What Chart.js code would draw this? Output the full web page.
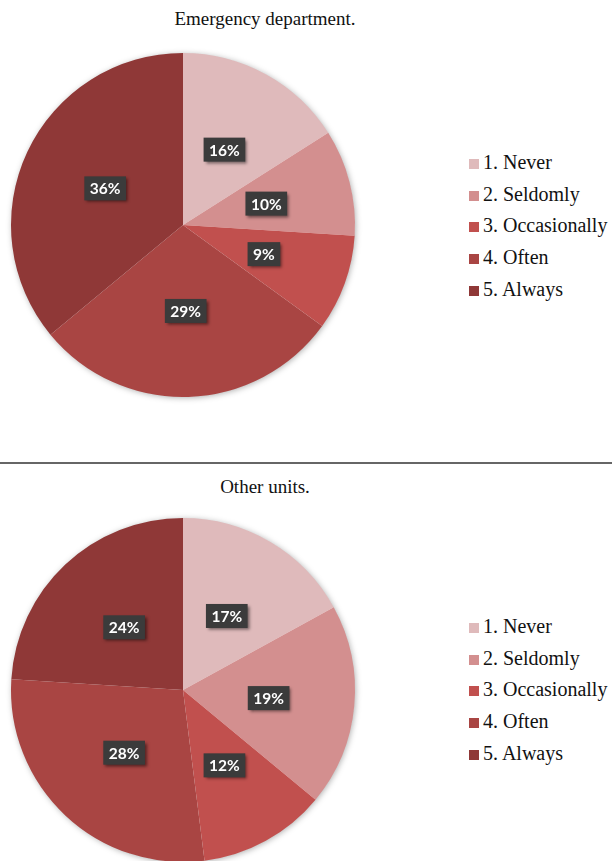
<!DOCTYPE html>
<html>
<head>
<meta charset="utf-8">
<script src="https://cdn.jsdelivr.net/npm/chart.js@4.4.0/dist/chart.umd.min.js"></script>
<style>
    html, body { margin: 0; padding: 0; background: #fff; }
    body { width: 612px; height: 861px; position: relative; overflow: hidden; }
    .title { position: absolute; left: 0; width: 530px; text-align: center;
             font-family: "Liberation Serif", "Times New Roman", serif; font-size: 19px; color: #111; }
    .pie { position: absolute; left: 0; width: 366px; height: 366px; }
    .legend { position: absolute; left: 469px; font-family: "Liberation Serif", "Times New Roman", serif;
              font-size: 20px; color: #111; }
    .legend div { height: 31.7px; line-height: 31.7px; white-space: nowrap; }
    .legend span { display: inline-block; width: 10px; height: 10px; margin-right: 4px; vertical-align: 0px; }
    .sep { position: absolute; left: 0; top: 462px; width: 612px; height: 1.5px; background: #666; }
</style>
</head>
<body>
<div class="title" style="top:8px">Emergency department.</div>
<div class="pie" style="top:42px"><canvas id="edChart" width="366" height="366"></canvas></div>
<div class="legend" id="edLegend" style="top:147px"></div>

<div class="sep"></div>

<div class="title" style="top:476px">Other units.</div>
<div class="pie" style="top:507px"><canvas id="otherChart" width="366" height="366"></canvas></div>
<div class="legend" id="otherLegend" style="top:611px"></div>

<script>
// 응답 항목
const categories = ['1. Never', '2. Seldomly', '3. Occasionally', '4. Often', '5. Always'];
// 응급실 / 기타 부서 (%)
const edValues = [16, 10, 9, 29, 36];
const otherValues = [17, 19, 12, 28, 24];
const sliceColors = ['#dfbabb', '#d38f8f', '#c1504e', '#a94543', '#8f3837'];

// 파이 그림자
const pieShadow = {
    id: 'pieShadow',
    beforeDatasetsDraw(chart) {
        const arc = chart.getDatasetMeta(0).data[0];
        if (!arc) return;
        const ctx = chart.ctx;
        ctx.save();
        ctx.shadowColor = 'rgba(0,0,0,0.35)';
        ctx.shadowBlur = 6;
        ctx.shadowOffsetX = 1;
        ctx.shadowOffsetY = 1;
        ctx.fillStyle = '#fff';
        ctx.beginPath();
        ctx.arc(arc.x, arc.y, arc.outerRadius - 0.5, 0, Math.PI * 2);
        ctx.fill();
        ctx.restore();
    }
};

// 퍼센트 라벨 (어두운 박스)
const boxLabels = {
    id: 'boxLabels',
    afterDatasetsDraw(chart) {
        const ctx = chart.ctx;
        const values = chart.data.datasets[0].data;
        chart.getDatasetMeta(0).data.forEach((arc, i) => {
            const mid = (arc.startAngle + arc.endAngle) / 2;
            const r = arc.outerRadius * 0.5;
            const x = arc.x + Math.cos(mid) * r;
            const y = arc.y + Math.sin(mid) * r;
            const text = values[i] + '%';
            ctx.save();
            ctx.font = 'bold 15.5px Lato, "Open Sans", sans-serif';
            const w = ctx.measureText(text).width + 11;
            const h = 24;
            ctx.shadowColor = 'rgba(0,0,0,0.5)';
            ctx.shadowBlur = 3;
            ctx.shadowOffsetX = 2;
            ctx.shadowOffsetY = 2;
            ctx.fillStyle = '#3b3b3b';
            ctx.fillRect(x - w / 2, y - h / 2, w, h);
            ctx.shadowColor = 'transparent';
            ctx.fillStyle = '#ffffff';
            ctx.textAlign = 'center';
            ctx.textBaseline = 'middle';
            ctx.fillText(text, x, y + 1);
            ctx.restore();
        });
    }
};

function makePie(id, values) {
    new Chart(document.getElementById(id), {
        type: 'pie',
        data: {
            labels: categories,
            datasets: [{
                data: values,
                backgroundColor: sliceColors,
                borderWidth: 0
            }]
        },
        options: {
            responsive: false,
            animation: false,
            layout: { padding: 11 },
            plugins: {
                legend: { display: false },
                tooltip: { enabled: false }
            }
        },
        plugins: [pieShadow, boxLabels]
    });
}

function makeLegend(id) {
    const box = document.getElementById(id);
    categories.forEach((label, i) => {
        const row = document.createElement('div');
        row.innerHTML = `<span style="background:${sliceColors[i]}"></span>${label}`;
        box.appendChild(row);
    });
}

makePie('edChart', edValues);
makePie('otherChart', otherValues);
makeLegend('edLegend');
makeLegend('otherLegend');
</script>
</body>
</html>
